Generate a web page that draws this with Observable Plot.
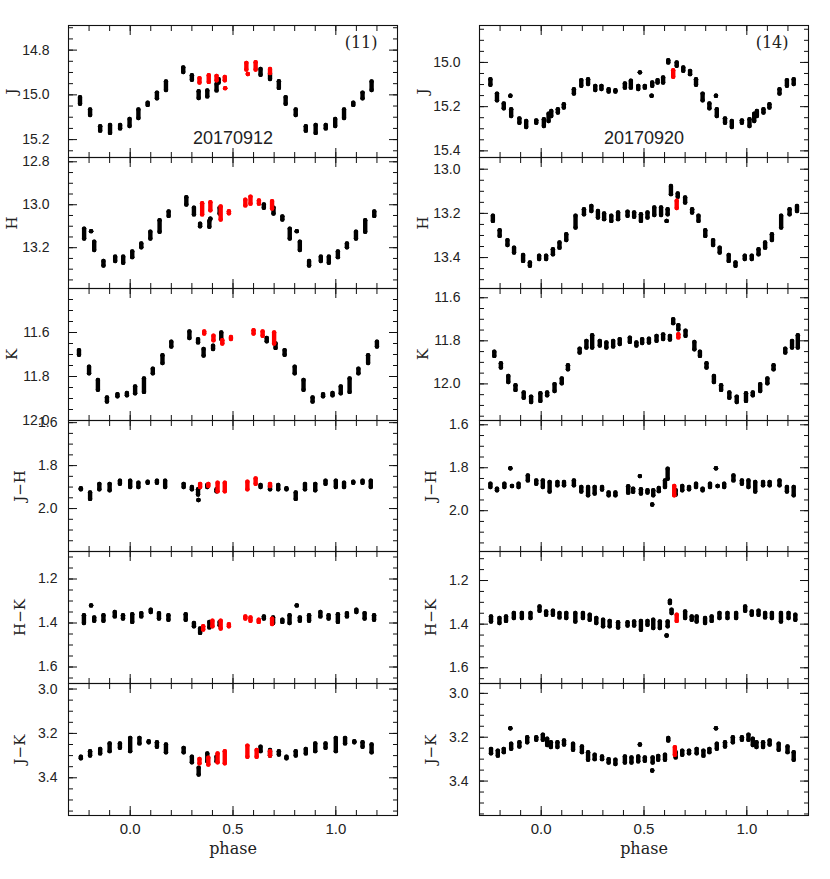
<!DOCTYPE html>
<html><head><meta charset="utf-8">
<script src="https://cdn.jsdelivr.net/npm/d3@7"></script>
<script src="https://cdn.jsdelivr.net/npm/@observablehq/plot@0.6"></script>
<style>
body{margin:0;background:#fff;}
#chart{position:relative;width:830px;height:879px;overflow:hidden;}
#chart svg{position:absolute;}
</style></head><body><div id="chart"></div>
<script>
// ---------- DATA: [phase, value (top of cluster), value (bottom of cluster)] ----------
// Star (11), 20170912 — black = regular epochs, red = highlighted epochs
const j11 = [[-0.244,15.01,15.04],[-0.195,15.065,15.09],[-0.146,15.14,15.16],[-0.098,15.135,15.17],[-0.049,15.135,15.15],[-0.003,15.108,15.139],[0.04,15.065,15.104],[0.085,15.035,15.045],[0.13,14.99,15.015],[0.174,14.94,14.978],[0.258,14.877,14.898],[0.30,14.912,14.933],[0.333,14.984,15.014],[0.375,14.98,15.007],[0.42,14.951,14.98],[0.43,14.93,14.945],[0.634,14.884,14.91],[0.68,14.906,14.929],[0.723,14.939,14.969]];
const j11red = [[0.337,14.925,14.945],[0.382,14.912,14.942],[0.42,14.915,14.935],[0.46,14.92,14.935],[0.462,14.97,14.97],[0.565,14.857,14.887],[0.572,14.907,14.907],[0.61,14.854,14.887],[0.68,14.884,14.902]];
const h11 = [[-0.224,13.111,13.157],[-0.19,13.123,13.123],[-0.175,13.172,13.211],[-0.13,13.262,13.283],[-0.073,13.242,13.262],[-0.034,13.242,13.27],[0.01,13.218,13.244],[0.054,13.18,13.198],[0.098,13.126,13.157],[0.143,13.072,13.126],[0.187,13.031,13.052],[0.273,12.965,12.999],[0.31,13.014,13.045],[0.34,13.088,13.1],[0.385,13.076,13.103],[0.39,13.065,13.065],[0.435,13.014,13.041],[0.65,12.999,13.014],[0.697,13.014,13.041],[0.74,13.054,13.069]];
const h11red = [[0.35,12.993,13.045],[0.39,12.988,13.026],[0.44,13.008,13.069],[0.48,13.03,13.04],[0.56,12.977,13.003],[0.585,12.962,12.995],[0.626,12.98,12.995],[0.69,12.983,13.018]];
const k11 = [[-0.249,11.68,11.701],[-0.2,11.756,11.785],[-0.157,11.816,11.86],[-0.113,11.895,11.914],[-0.062,11.88,11.89],[-0.016,11.875,11.885],[0.024,11.845,11.876],[0.067,11.809,11.87],[0.11,11.765,11.785],[0.157,11.703,11.739],[0.2,11.642,11.664],[0.288,11.595,11.625],[0.33,11.63,11.645],[0.357,11.675,11.705],[0.403,11.66,11.675],[0.443,11.6,11.63],[0.664,11.625,11.64],[0.707,11.65,11.67]];
const k11red = [[0.36,11.595,11.605],[0.405,11.615,11.635],[0.448,11.635,11.65],[0.49,11.62,11.63],[0.6,11.59,11.605],[0.644,11.595,11.615],[0.7,11.6,11.65]];
const jh11 = [[-0.24,1.905,1.91],[-0.195,1.925,1.955],[-0.15,1.885,1.91],[-0.1,1.885,1.915],[-0.05,1.87,1.885],[0.0,1.87,1.9],[0.04,1.88,1.9],[0.085,1.875,1.88],[0.13,1.87,1.88],[0.17,1.87,1.9],[0.26,1.885,1.9],[0.3,1.9,1.91],[0.33,1.91,1.935],[0.332,1.96,1.96],[0.375,1.89,1.9],[0.42,1.91,1.92],[0.634,1.89,1.9],[0.68,1.895,1.91],[0.72,1.89,1.91]];
const jh11red = [[0.34,1.885,1.9],[0.38,1.885,1.895],[0.425,1.88,1.92],[0.46,1.88,1.92],[0.57,1.875,1.91],[0.61,1.86,1.885],[0.68,1.885,1.895]];
const hk11 = [[-0.225,1.365,1.4],[-0.19,1.32,1.32],[-0.175,1.375,1.39],[-0.13,1.365,1.39],[-0.075,1.35,1.37],[-0.035,1.365,1.38],[0.01,1.36,1.395],[0.054,1.355,1.37],[0.1,1.34,1.35],[0.14,1.355,1.38],[0.186,1.365,1.385],[0.27,1.36,1.385],[0.31,1.4,1.415],[0.34,1.425,1.445],[0.385,1.395,1.42],[0.435,1.395,1.41],[0.65,1.37,1.38],[0.695,1.375,1.4],[0.74,1.385,1.395]];
const hk11red = [[0.355,1.415,1.43],[0.4,1.39,1.415],[0.44,1.39,1.425],[0.48,1.405,1.415],[0.56,1.37,1.38],[0.585,1.375,1.39],[0.625,1.385,1.395],[0.69,1.38,1.405]];
const jk11 = [[-0.24,3.305,3.312],[-0.195,3.28,3.3],[-0.146,3.27,3.29],[-0.1,3.245,3.28],[-0.05,3.245,3.265],[0.0,3.22,3.28],[0.045,3.22,3.245],[0.09,3.235,3.24],[0.13,3.24,3.26],[0.174,3.25,3.285],[0.26,3.265,3.285],[0.3,3.305,3.33],[0.333,3.355,3.385],[0.375,3.29,3.325],[0.42,3.305,3.325],[0.634,3.26,3.28],[0.68,3.275,3.3],[0.723,3.28,3.295]];
const jk11red = [[0.337,3.315,3.335],[0.38,3.31,3.34],[0.425,3.29,3.33],[0.46,3.28,3.335],[0.57,3.255,3.305],[0.615,3.275,3.305],[0.68,3.28,3.3]];

// Star (14), 20170920
const j14 = [[-0.247,15.076,15.101],[-0.215,15.141,15.171],[-0.182,15.186,15.207],[-0.15,15.151,15.151],[-0.146,15.212,15.242],[-0.106,15.253,15.273],[-0.073,15.265,15.292],[-0.024,15.262,15.273],[0.013,15.257,15.288],[0.036,15.232,15.265],[0.049,15.22,15.242],[0.081,15.212,15.227],[0.11,15.189,15.204],[0.159,15.121,15.141],[0.195,15.08,15.106],[0.228,15.076,15.098],[0.263,15.106,15.125],[0.293,15.106,15.12],[0.328,15.121,15.132],[0.361,15.126,15.132],[0.407,15.095,15.114],[0.436,15.083,15.114],[0.48,15.045,15.045],[0.472,15.106,15.12],[0.504,15.106,15.114],[0.537,15.151,15.151],[0.54,15.091,15.106],[0.566,15.08,15.091],[0.593,15.068,15.091],[0.618,14.99,15.0],[0.659,15.0,15.015],[0.691,15.023,15.038],[0.724,15.038,15.053]];
const j14red = [[0.642,15.035,15.065]];
const h14 = [[-0.235,13.211,13.234],[-0.202,13.276,13.302],[-0.164,13.321,13.343],[-0.132,13.355,13.377],[-0.088,13.388,13.415],[-0.055,13.422,13.437],[-0.01,13.392,13.407],[0.024,13.392,13.407],[0.057,13.362,13.385],[0.089,13.332,13.355],[0.122,13.294,13.321],[0.167,13.211,13.264],[0.208,13.181,13.204],[0.244,13.166,13.189],[0.276,13.189,13.219],[0.306,13.2,13.226],[0.341,13.211,13.234],[0.374,13.196,13.226],[0.42,13.192,13.211],[0.452,13.196,13.215],[0.485,13.204,13.234],[0.517,13.196,13.219],[0.55,13.173,13.207],[0.583,13.173,13.207],[0.61,13.234,13.234],[0.615,13.181,13.204],[0.631,13.076,13.113],[0.664,13.11,13.125],[0.7,13.128,13.151],[0.734,13.181,13.196]];
const h14red = [[0.659,13.143,13.176]];
const k14 = [[-0.228,11.851,11.87],[-0.196,11.904,11.924],[-0.16,11.963,11.991],[-0.125,12.006,12.028],[-0.085,12.04,12.064],[-0.049,12.059,12.084],[-0.004,12.043,12.079],[0.029,12.04,12.053],[0.065,12.001,12.033],[0.1,11.975,11.997],[0.13,11.913,11.932],[0.187,11.836,11.854],[0.22,11.8,11.831],[0.248,11.774,11.831],[0.285,11.8,11.822],[0.317,11.808,11.831],[0.35,11.8,11.826],[0.382,11.792,11.815],[0.431,11.785,11.805],[0.463,11.808,11.822],[0.491,11.792,11.81],[0.524,11.79,11.808],[0.561,11.777,11.8],[0.593,11.77,11.792],[0.626,11.777,11.794],[0.642,11.699,11.718],[0.667,11.727,11.746],[0.702,11.753,11.777],[0.745,11.805,11.839]];
const k14red = [[0.667,11.769,11.784]];
const jh14 = [[-0.247,1.874,1.89],[-0.215,1.897,1.905],[-0.179,1.874,1.89],[-0.15,1.802,1.802],[-0.142,1.885,1.885],[-0.11,1.874,1.89],[-0.065,1.836,1.859],[-0.024,1.859,1.875],[0.008,1.859,1.89],[0.041,1.866,1.911],[0.079,1.866,1.882],[0.111,1.866,1.882],[0.159,1.859,1.882],[0.195,1.89,1.911],[0.228,1.89,1.928],[0.26,1.89,1.92],[0.296,1.89,1.901],[0.328,1.915,1.928],[0.361,1.915,1.928],[0.423,1.886,1.916],[0.447,1.897,1.912],[0.48,1.839,1.839],[0.485,1.9,1.92],[0.517,1.905,1.915],[0.54,1.971,1.971],[0.545,1.905,1.928],[0.572,1.894,1.909],[0.602,1.859,1.89],[0.615,1.805,1.851],[0.654,1.905,1.925],[0.686,1.885,1.905],[0.719,1.89,1.9]];
const jh14red = [[0.647,1.885,1.928]];
const hk14 = [[-0.244,1.365,1.388],[-0.203,1.372,1.395],[-0.171,1.365,1.385],[-0.133,1.349,1.372],[-0.094,1.349,1.372],[-0.052,1.349,1.372],[-0.008,1.319,1.339],[0.024,1.342,1.357],[0.057,1.338,1.357],[0.089,1.349,1.369],[0.122,1.349,1.372],[0.166,1.349,1.388],[0.203,1.349,1.372],[0.236,1.357,1.38],[0.268,1.372,1.395],[0.301,1.38,1.41],[0.333,1.385,1.41],[0.374,1.391,1.415],[0.42,1.391,1.406],[0.452,1.388,1.406],[0.485,1.385,1.426],[0.517,1.385,1.403],[0.545,1.38,1.418],[0.577,1.388,1.418],[0.61,1.452,1.452],[0.615,1.388,1.41],[0.626,1.293,1.303],[0.634,1.334,1.349],[0.7,1.342,1.372],[0.732,1.365,1.38]];
const hk14red = [[0.659,1.357,1.385]];
const jk14 = [[-0.244,3.253,3.273],[-0.211,3.261,3.284],[-0.182,3.253,3.268],[-0.15,3.159,3.159],[-0.146,3.23,3.253],[-0.106,3.223,3.242],[-0.068,3.2,3.223],[-0.024,3.2,3.212],[0.008,3.188,3.212],[0.029,3.207,3.236],[0.047,3.223,3.245],[0.079,3.223,3.245],[0.111,3.215,3.233],[0.155,3.23,3.257],[0.198,3.242,3.268],[0.228,3.268,3.303],[0.26,3.28,3.3],[0.296,3.288,3.3],[0.328,3.3,3.315],[0.361,3.303,3.322],[0.407,3.288,3.315],[0.439,3.292,3.315],[0.48,3.233,3.233],[0.472,3.288,3.31],[0.504,3.292,3.307],[0.54,3.352,3.352],[0.542,3.292,3.315],[0.569,3.285,3.303],[0.602,3.28,3.303],[0.618,3.203,3.215],[0.654,3.268,3.292],[0.686,3.261,3.28],[0.719,3.261,3.273]];
const jk14red = [[0.65,3.245,3.28]];

// ---------- TICKS / LABELS ----------
const phaseMajor = [0, 0.5, 1.0];
const phaseMinor = [-0.2,-0.1,0,0.1,0.2,0.3,0.4,0.5,0.6,0.7,0.8,0.9,1.0,1.1,1.2];
const rowLabels = ["J", "H", "K", "J\u2212H", "H\u2212K", "J\u2212K"];
const ticks11 = [[14.8,15.0,15.2],[12.8,13.0,13.2],[11.6,11.8,12.0],[1.6,1.8,2.0],[1.2,1.4,1.6],[3.0,3.2,3.4]];
const ticks14 = [[15.0,15.2,15.4],[13.0,13.2,13.4],[11.6,11.8,12.0],[1.6,1.8,2.0],[1.2,1.4,1.6],[3.0,3.2,3.4]];
const domains11 = [[14.69,15.28],[12.78,13.39],[11.40,12.00],[1.59,2.20],[1.075,1.675],[2.975,3.57]];
const domains14 = [[14.833,15.43],[12.947,13.54],[11.557,12.17],[1.58,2.19],[1.067,1.672],[2.955,3.557]];
const stars = [
  {id: "(11)", date: "20170912", black: [j11,h11,k11,jh11,hk11,jk11], red: [j11red,h11red,k11red,jh11red,hk11red,jk11red], ticks: ticks11, domains: domains11},
  {id: "(14)", date: "20170920", black: [j14,h14,k14,jh14,hk14,jk14], red: [j14red,h14red,k14red,jh14red,hk14red,jk14red], ticks: ticks14, domains: domains14}
];

// ---------- LAYOUT ----------
const rowTop = [25, 157, 288, 420, 551, 683];
const rowH = [132, 131, 132, 131, 132, 132];
const colLeft = [0, 411];
const ML = 68, MR = 22, PW = 329;

// points are plotted twice over the phase window (phase folding)
const fold = a => a.flatMap(d => d[0] < 0.25 ? [d, [d[0] + 1, d[1], d[2]]] : [d]);

const chart = document.getElementById("chart");
const fmt = d3.format(".1f");

stars.forEach((star, c) => {
  for (let r = 0; r < 6; r++) {
    const [d0, d1] = star.domains[r];
    const eps = 0.004;
    const minor = d3.range(Math.ceil(d0 * 20), Math.floor(d1 * 20) + 1).map(i => i / 20).filter(v => v > d0 + eps && v < d1 - eps);
    const maj = star.ticks[r].filter(v => v > d0 + eps && v < d1 - eps);
    const pts = fold(star.black[r]);
    const rpts = fold(star.red[r]);
    const bottom = r === 5;
    const mt = 12, mb = bottom ? 70 : 12;
    const wide = r >= 3;
    const tickOpts = {fill: "none", label: null, stroke: "#111"};
    const marks = [
      Plot.axisY(minor, {...tickOpts, anchor: "left", tickSize: 5, dx: 5}),
      Plot.axisY(minor, {...tickOpts, anchor: "right", tickSize: 5, dx: -5}),
      Plot.axisY(maj, {...tickOpts, anchor: "left", tickSize: 9, dx: 9}),
      Plot.axisY(maj, {...tickOpts, anchor: "right", tickSize: 9, dx: -9}),
      Plot.axisX(phaseMinor, {...tickOpts, anchor: "bottom", tickSize: 5, dy: -5}),
      Plot.axisX(phaseMinor, {...tickOpts, anchor: "top", tickSize: 5, dy: 5}),
      Plot.axisX(phaseMajor, {...tickOpts, anchor: "bottom", tickSize: 9, dy: -9}),
      Plot.axisX(phaseMajor, {...tickOpts, anchor: "top", tickSize: 9, dy: 9}),
      Plot.axisY(star.ticks[r], {anchor: "left", tickSize: 0, tickPadding: wide ? 11 : 19, tickFormat: fmt, label: null, fontSize: 14, fill: "#222"}),
      Plot.frame({stroke: "#111", strokeWidth: 1.1}),
      Plot.text([rowLabels[r]], {text: d => d, frameAnchor: "left", dx: wide ? -48 : -56, rotate: -90, textAnchor: "middle", lineAnchor: "middle", fontFamily: "DejaVu Serif", fontSize: 15, fill: "#222"}),
      Plot.link(pts, {x1: d => d[0], x2: d => d[0], y1: d => d[1], y2: d => d[2], stroke: "#000", strokeWidth: 4.4, strokeLinecap: "round"}),
      Plot.dot(pts, {x: d => d[0], y: d => d[1], r: 2.2, fill: "#000"}),
      Plot.dot(pts, {x: d => d[0], y: d => d[2], r: 2.2, fill: "#000"}),
      Plot.link(rpts, {x1: d => d[0], x2: d => d[0], y1: d => d[1], y2: d => d[2], stroke: "#f00", strokeWidth: 4.4, strokeLinecap: "round"}),
      Plot.dot(rpts, {x: d => d[0], y: d => d[1], r: 2.2, fill: "#f00"}),
      Plot.dot(rpts, {x: d => d[0], y: d => d[2], r: 2.2, fill: "#f00"})
    ];
    if (r === 0) {
      marks.push(Plot.text([star.id], {text: d => d, frameAnchor: "top-right", dx: -20, dy: 17, textAnchor: "end", lineAnchor: "middle", fontFamily: "DejaVu Serif", fontSize: 16, fill: "#222"}));
      marks.push(Plot.text([star.date], {text: d => d, frameAnchor: "bottom", dy: -19, textAnchor: "middle", lineAnchor: "middle", fontFamily: "Liberation Sans", fontSize: 18, fill: "#222"}));
    }
    if (bottom) {
      marks.push(Plot.axisX(phaseMajor, {anchor: "bottom", tickSize: 0, tickPadding: 8, tickFormat: fmt, label: null, fontSize: 15, fill: "#222"}));
      marks.push(Plot.text(["phase"], {text: d => d, frameAnchor: "bottom", dy: 33, textAnchor: "middle", lineAnchor: "middle", fontFamily: "DejaVu Serif", fontSize: 16, fill: "#222"}));
    }
    const svg = Plot.plot({
      width: ML + PW + MR,
      height: rowH[r] + mt + mb,
      marginLeft: ML, marginRight: MR, marginTop: mt, marginBottom: mb,
      x: {domain: [-0.3, 1.3]},
      y: {domain: [d0, d1], reverse: true},
      style: {fontFamily: "Liberation Sans", fontSize: "14px", color: "#111", background: "transparent", overflow: "visible"},
      marks
    });
    svg.style.position = "absolute";
    svg.style.left = colLeft[c] + "px";
    svg.style.top = (rowTop[r] - mt) + "px";
    svg.style.maxWidth = "none";
    chart.appendChild(svg);
  }
});
</script></body></html>
